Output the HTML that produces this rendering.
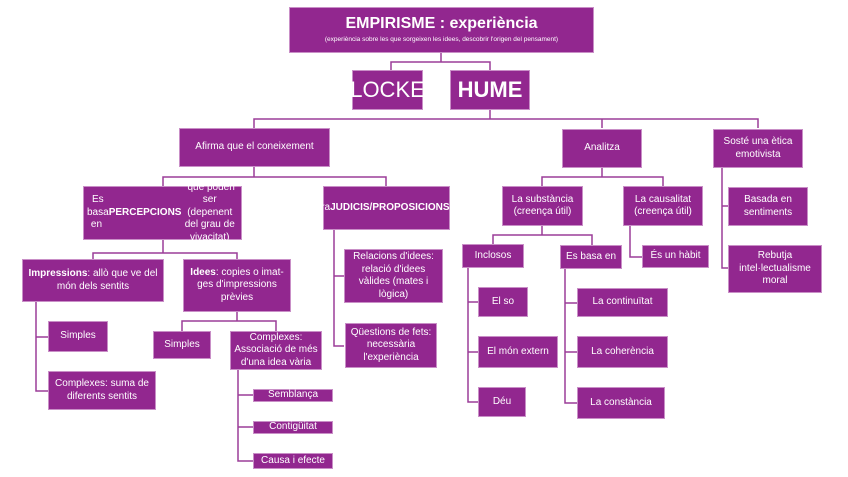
<!DOCTYPE html>
<html><head><meta charset="utf-8"><style>
body{margin:0;width:848px;height:477px;background:#fff;position:relative;overflow:hidden;font-family:"Liberation Sans",sans-serif}
.b{position:absolute;box-sizing:border-box;background:#92278f;border:1px solid #c98fc7;color:#fff;display:flex;align-items:center;justify-content:center;text-align:center;font-size:10px;line-height:12.5px;padding:0 3px}
svg{position:absolute;left:0;top:0}
</style></head><body>
<svg width="848" height="477"><g stroke="#9b3d98" stroke-width="1.5" fill="none">
<path d="M441 52V62M391 70V62H490V70"/>
<path d="M490 110V119M254 128V119H758V128M602 119V128"/>
<path d="M254 167V177M163 186V177H386V186"/>
<path d="M163 240V253M93 259V253H237V259"/>
<path d="M36 302V391H48M36 337H48"/>
<path d="M237 312V321M182 331V321H276V331"/>
<path d="M238 370V461H254M238 395H254M238 427H254"/>
<path d="M334 230V346H344M334 276H344"/>
<path d="M602 168V177M542 186V177H663V186"/>
<path d="M722 168V268H728M722 206H728"/>
<path d="M542 226V235M493 244V235H592V245"/>
<path d="M630 226V257H642"/>
<path d="M468 268V402H478M468 302H478M468 352H478"/>
<path d="M565 269V403H577M565 303H577M565 352H577"/>
</g></svg>
<div class="b" style="left:289px;top:7px;width:305px;height:46px;flex-direction:column"><div style="font-size:16px;font-weight:bold;line-height:20px">EMPIRISME : experiència</div><div style="font-size:6.5px;line-height:12px">(experiència sobre les que sorgeixen les idees, descobrir l'origen del pensament)</div></div>
<div class="b" style="left:352px;top:70px;width:71px;height:40px;font-size:22px">LOCKE</div>
<div class="b" style="left:450px;top:70px;width:80px;height:40px;font-size:22px;font-weight:bold">HUME</div>
<div class="b" style="left:179px;top:128px;width:151px;height:39px">Afirma que el coneixement</div>
<div class="b" style="left:562px;top:129px;width:80px;height:39px">Analitza</div>
<div class="b" style="left:713px;top:129px;width:90px;height:39px">Sosté una ètica emotivista</div>
<div class="b" style="left:83px;top:186px;width:159px;height:54px">Es basa en&nbsp;<b>PERCEPCIONS</b>&nbsp;que poden ser (depenent del grau de vivacitat)</div>
<div class="b" style="left:323px;top:186px;width:127px;height:44px">Elabora<br><b>JUDICIS/PROPOSICIONS</b><br>que poden ser</div>
<div class="b" style="left:502px;top:186px;width:81px;height:40px">La substància (creença útil)</div>
<div class="b" style="left:623px;top:186px;width:80px;height:40px">La causalitat (creença útil)</div>
<div class="b" style="left:728px;top:187px;width:80px;height:39px">Basada en sentiments</div>
<div class="b" style="left:728px;top:245px;width:94px;height:48px">Rebutja intel·lectualisme moral</div>
<div class="b" style="left:22px;top:259px;width:142px;height:43px"><span><b>Impressions</b>: allò que ve del món dels sentits</span></div>
<div class="b" style="left:183px;top:259px;width:108px;height:53px"><span><b>Idees</b>: copies o imat-ges d'impressions prèvies</span></div>
<div class="b" style="left:344px;top:249px;width:99px;height:54px">Relacions d'idees: relació d'idees vàlides (mates i lògica)</div>
<div class="b" style="left:345px;top:323px;width:92px;height:45px">Qüestions de fets: necessària l'experiència</div>
<div class="b" style="left:48px;top:321px;width:60px;height:31px">Simples</div>
<div class="b" style="left:48px;top:371px;width:108px;height:39px">Complexes: suma de diferents sentits</div>
<div class="b" style="left:153px;top:331px;width:58px;height:28px">Simples</div>
<div class="b" style="left:230px;top:331px;width:92px;height:39px">Complexes: Associació de més d'una idea vària</div>
<div class="b" style="left:253px;top:389px;width:80px;height:13px">Semblança</div>
<div class="b" style="left:253px;top:421px;width:80px;height:13px">Contigüitat</div>
<div class="b" style="left:253px;top:453px;width:80px;height:16px">Causa i efecte</div>
<div class="b" style="left:462px;top:244px;width:62px;height:24px">Inclosos</div>
<div class="b" style="left:560px;top:245px;width:62px;height:24px">Es basa en</div>
<div class="b" style="left:642px;top:245px;width:67px;height:23px">És un hàbit</div>
<div class="b" style="left:478px;top:287px;width:50px;height:30px">El so</div>
<div class="b" style="left:478px;top:336px;width:80px;height:32px">El món extern</div>
<div class="b" style="left:478px;top:387px;width:48px;height:30px">Déu</div>
<div class="b" style="left:577px;top:288px;width:91px;height:29px">La continuïtat</div>
<div class="b" style="left:577px;top:336px;width:91px;height:32px">La coherència</div>
<div class="b" style="left:577px;top:387px;width:88px;height:32px">La constància</div>
</body></html>
